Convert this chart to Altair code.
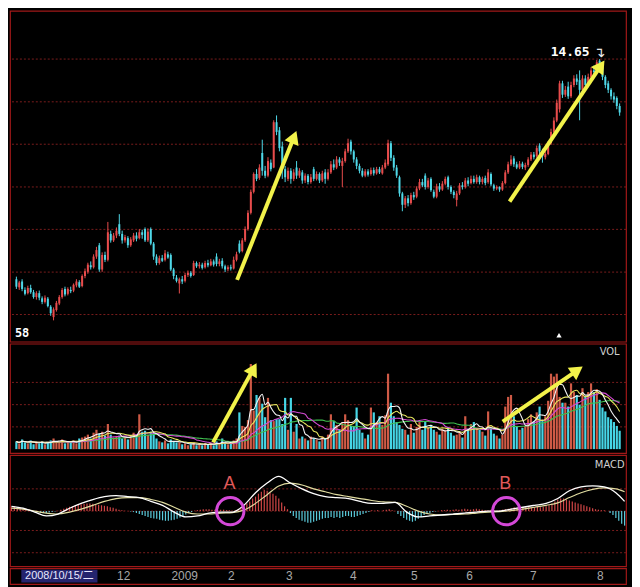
import altair as alt
import pandas as pd

# ---------------- data ----------------
OPEN = [7.85,7.60,7.78,7.52,7.42,7.58,7.45,7.30,7.42,7.26,
        7.15,7.25,7.00,6.68,6.90,7.10,7.30,7.55,7.40,7.52,
        7.50,7.66,7.76,7.64,7.95,8.08,8.28,8.22,8.55,8.90,
        8.15,8.60,8.45,9.25,9.05,9.20,9.55,9.25,9.05,9.12,
        8.90,9.05,9.20,9.12,9.30,9.40,9.05,9.40,8.95,8.55,
        8.35,8.50,8.45,8.62,8.60,8.15,7.90,7.72,7.85,7.80,
        7.98,8.05,7.98,8.35,8.25,8.30,8.22,8.35,8.28,8.40,
        8.55,8.32,8.42,8.25,8.16,8.22,8.18,8.45,8.95,8.72,
        9.05,9.40,9.90,10.55,11.10,10.98,11.75,11.20,11.05,11.45,
        11.30,12.70,12.45,11.95,11.25,10.95,11.20,10.95,11.30,11.05,
        11.15,10.90,11.05,10.85,11.25,10.95,11.10,10.90,11.15,10.95,
        11.15,11.40,11.30,11.55,11.35,11.50,11.80,12.10,11.80,11.55,
        11.35,11.20,11.05,11.18,11.10,11.22,11.12,11.25,11.12,11.30,
        11.40,12.05,11.60,11.30,11.00,10.50,10.15,10.35,10.20,10.45,
        10.40,10.65,10.85,11.05,10.70,10.95,10.55,10.40,10.72,10.62,
        10.80,11.00,10.70,10.55,10.30,10.50,10.75,10.70,10.90,10.82,
        10.95,10.85,11.00,10.85,10.98,10.85,11.10,10.75,10.65,10.70,
        10.62,10.82,11.15,11.40,11.58,11.40,11.30,11.42,11.30,11.38,
        11.55,11.70,11.65,11.98,11.80,11.62,11.72,12.05,12.40,12.75,
        13.10,13.90,13.55,13.80,13.50,13.85,14.05,14.00,13.70,14.05,
        13.85,14.10,14.30,14.25,14.60,14.45,14.10,13.90,13.70,13.50,
        13.45,13.20]
CLOSE = [7.62,7.75,7.55,7.40,7.58,7.45,7.30,7.42,7.28,7.15,
         7.28,7.02,6.80,6.92,7.12,7.30,7.52,7.38,7.55,7.48,
         7.68,7.78,7.62,7.95,8.10,8.30,8.22,8.55,8.75,8.15,
         8.60,8.45,9.30,9.05,9.20,9.35,9.25,9.05,9.15,8.90,
         9.08,9.20,9.10,9.30,9.22,9.05,9.32,8.95,8.55,8.35,
         8.50,8.42,8.65,8.52,8.15,7.95,7.80,7.85,7.78,7.98,
         8.05,7.95,8.35,8.25,8.30,8.20,8.35,8.28,8.40,8.30,
         8.32,8.40,8.25,8.15,8.22,8.18,8.45,8.62,8.70,9.05,
         9.40,9.90,10.55,11.10,10.95,11.30,11.20,11.05,11.50,11.25,
         12.70,12.40,11.90,11.25,11.00,11.20,10.95,11.15,11.05,11.20,
         10.90,11.05,10.85,11.00,10.95,11.10,10.90,11.12,10.95,11.15,
         11.40,11.30,11.55,11.45,11.50,11.80,12.05,11.80,11.55,11.35,
         11.20,11.05,11.18,11.08,11.22,11.12,11.25,11.15,11.30,11.45,
         12.05,11.60,11.30,11.05,10.50,10.15,10.35,10.20,10.45,10.38,
         10.65,10.85,10.75,10.70,10.90,10.60,10.40,10.72,10.62,10.80,
         10.95,10.70,10.55,10.45,10.50,10.75,10.70,10.90,10.80,10.95,
         10.85,11.00,10.85,10.95,10.82,11.15,10.78,10.65,10.70,10.62,
         10.82,11.15,11.40,11.55,11.40,11.30,11.42,11.32,11.38,11.55,
         11.70,11.62,11.90,11.80,11.65,11.72,12.05,12.40,12.75,13.30,
         13.90,13.55,13.70,13.50,13.85,14.05,13.95,13.70,14.05,13.85,
         14.10,14.30,14.25,14.55,14.45,14.10,13.85,13.70,13.50,13.40,
         13.20,13.00]
HIGH = [7.93,7.80,7.85,7.60,7.65,7.68,7.52,7.48,7.50,7.32,
        7.35,7.30,7.05,6.98,7.18,7.36,7.58,7.62,7.60,7.62,
        7.72,7.85,7.82,8.00,8.18,8.36,8.40,8.62,8.85,8.97,
        8.68,8.70,9.62,9.35,9.28,9.45,9.86,9.35,9.22,9.18,
        9.15,9.28,9.30,9.40,9.38,9.45,9.42,9.45,9.00,8.62,
        8.58,8.60,8.75,8.70,8.65,8.20,7.98,7.90,7.95,8.05,
        8.12,8.10,8.42,8.40,8.38,8.36,8.42,8.45,8.48,8.46,
        8.65,8.48,8.50,8.30,8.28,8.30,8.55,8.70,9.05,9.12,
        9.48,9.98,10.62,11.15,11.25,11.40,12.16,11.35,11.62,11.55,
        12.76,12.91,12.55,12.10,11.35,11.30,11.28,11.25,11.50,11.28,
        11.22,11.12,11.10,11.10,11.32,11.18,11.15,11.20,11.25,11.25,
        11.50,11.55,11.65,11.62,11.60,11.88,12.19,12.16,11.85,11.62,
        11.42,11.28,11.25,11.25,11.30,11.30,11.32,11.32,11.38,11.55,
        12.16,12.12,11.68,11.38,11.05,10.55,10.42,10.45,10.52,10.55,
        10.72,10.95,10.95,11.12,10.98,11.00,10.62,10.80,10.82,10.88,
        11.02,11.05,10.75,10.60,10.58,10.82,10.85,10.98,11.00,11.05,
        11.05,11.08,11.05,11.02,11.05,11.25,11.15,10.80,10.75,10.72,
        10.88,11.22,11.48,11.68,11.65,11.48,11.50,11.48,11.45,11.62,
        11.78,11.78,11.98,12.05,11.88,11.80,12.12,12.50,12.85,13.40,
        13.98,13.98,13.82,13.95,13.95,14.15,14.18,14.30,14.15,14.15,
        14.20,14.40,14.45,14.62,14.65,14.50,14.15,13.98,13.75,13.62,
        13.50,13.28]
LOW = [7.55,7.52,7.48,7.35,7.38,7.40,7.25,7.22,7.20,7.08,
       7.10,6.98,6.72,6.58,6.85,7.05,7.25,7.32,7.35,7.42,
       7.45,7.60,7.58,7.60,7.88,8.02,8.15,8.18,8.48,8.08,
       8.08,8.38,8.40,8.98,9.00,9.12,9.18,8.95,8.98,8.82,
       8.85,9.00,9.02,9.08,9.10,9.00,9.00,8.90,8.45,8.28,
       8.30,8.38,8.40,8.48,8.10,7.85,7.75,7.41,7.70,7.75,
       7.92,7.90,7.95,8.20,8.18,8.15,8.18,8.22,8.25,8.24,
       8.25,8.25,8.18,8.07,8.10,8.12,8.15,8.40,8.65,8.68,
       9.00,9.35,9.85,10.50,10.88,10.92,11.05,10.97,11.00,11.18,
       11.28,12.30,11.80,10.95,10.85,10.88,10.80,10.88,10.95,10.98,
       10.80,10.82,10.78,10.80,10.88,10.90,10.82,10.85,10.80,10.90,
       11.10,11.22,11.25,11.35,10.70,11.45,11.75,11.70,11.45,11.25,
       11.12,11.00,11.00,11.02,11.05,11.05,11.08,11.10,11.08,11.25,
       11.35,11.50,11.20,10.98,10.40,9.95,10.05,10.10,10.15,10.30,
       10.35,10.60,10.70,10.62,10.65,10.55,10.35,10.35,10.55,10.58,
       10.75,10.62,10.48,10.35,10.10,10.45,10.62,10.65,10.72,10.78,
       10.80,10.80,10.78,10.78,10.75,10.80,10.72,10.58,10.60,10.55,
       10.58,10.78,11.10,11.35,11.32,11.25,11.25,11.25,11.22,11.32,
       11.50,11.55,11.60,11.72,11.45,11.55,11.68,12.00,12.35,12.70,
       13.00,13.45,13.48,13.42,13.45,13.78,13.85,12.76,13.60,13.75,
       13.78,14.05,14.15,14.20,14.38,14.00,13.75,13.60,13.40,13.30,
       13.10,12.90]
VOL = [16,12,20,14,12,18,10,14,12,16,
       10,14,18,22,16,14,20,12,16,14,
       18,12,22,24,26,30,22,34,40,32,
       36,28,52,30,24,26,28,22,26,20,
       28,34,30,72,36,38,30,36,34,22,
       16,14,18,12,20,16,14,14,10,12,
       8,10,14,8,10,8,12,10,12,8,
       16,12,22,14,10,12,18,22,76,48,
       46,60,176,80,112,106,94,66,106,60,
       58,62,62,52,106,40,106,36,52,22,
       26,22,18,26,22,20,16,26,22,30,
       72,58,50,40,56,72,60,48,48,86,
       40,34,22,30,86,76,56,68,50,70,
       156,96,68,56,50,42,40,30,52,34,
       46,56,40,56,44,50,40,36,30,42,
       40,46,34,28,30,36,24,68,42,52,
       56,44,40,36,28,78,42,32,28,22,
       30,88,108,112,68,48,40,44,48,62,
       72,58,76,88,58,68,100,156,150,156,
       108,96,96,88,136,118,112,92,126,110,
       118,136,118,124,102,86,78,66,62,56,
       48,38]
HIST = [0.08,0.10,0.08,0.07,0.06,0.05,0.04,
        0.02,0.00,-0.02,-0.03,-0.04,-0.04,-0.03,-0.02,-0.01,0.01,
        0.03,0.05,0.07,0.09,0.10,0.12,0.13,0.14,0.15,0.16,0.16,0.15,0.14,0.13,0.12,0.11,0.10,0.08,0.07,0.05,0.03,
        0.02,0.01,0.00,-0.01,-0.02,
        -0.04,-0.06,-0.08,-0.10,-0.12,-0.14,-0.15,-0.16,-0.18,-0.19,-0.20,-0.20,-0.19,-0.18,-0.16,-0.13,-0.10,-0.07,
        -0.04,-0.02,0.01,0.02,0.03,0.04,0.04,0.04,0.03,0.03,0.02,0.03,0.03,0.02,0.02,0.01,0.02,0.04,
        0.08,0.12,0.16,0.20,0.26,0.30,0.36,0.40,0.44,0.42,0.38,0.36,0.32,0.26,0.18,0.10,0.04,
        -0.04,-0.10,-0.14,-0.18,-0.20,-0.22,-0.24,-0.24,-0.22,-0.20,-0.18,-0.16,-0.14,-0.14,-0.12,
        -0.14,-0.12,-0.14,-0.12,-0.10,-0.10,-0.12,-0.12,-0.10,-0.08,-0.06,-0.04,-0.02,
        0.02,0.01,0.02,0.00,0.02,0.03,0.04,0.02,0.00,
        -0.06,-0.10,-0.14,-0.18,-0.20,-0.22,-0.20,-0.16,-0.12,-0.08,-0.06,-0.04,-0.02,-0.01,0.00,
        0.02,0.02,0.03,0.02,0.03,0.04,0.03,0.04,0.05,0.04,0.03,0.04,0.05,0.04,0.03,0.02,0.02,0.03,0.02,0.01,0.02,0.03,0.04,
        0.05,0.06,0.08,0.07,0.06,0.07,0.08,0.08,0.07,0.08,0.09,0.08,0.09,0.10,0.12,
        0.16,0.20,0.24,0.26,0.26,0.24,0.22,0.20,0.18,0.16,0.14,0.12,0.10,0.08,0.06,
        0.04,0.03,0.02,0.02,0.00,-0.04,-0.08,
        -0.14,-0.20,-0.26,-0.30]

MACD_IDX = [0,4,8,12,16,20,24,28,32,36,40,44,48,52,56,60,64,68,72,76,
            80,84,88,92,96,100,104,108,112,116,120,124,128,132,136,140,144,148,152,156,
            160,164,168,172,176,180,184,188,192,196,200,204,208,211]
DIF = [0.10,0.06,-0.02,-0.10,-0.06,0.06,0.16,0.24,0.30,0.32,
       0.30,0.28,0.20,0.12,-0.02,-0.12,-0.10,-0.04,-0.02,-0.02,
       0.12,0.38,0.58,0.72,0.58,0.46,0.36,0.30,0.28,0.26,
       0.20,0.16,0.16,0.18,-0.02,-0.12,-0.10,-0.08,-0.06,-0.04,
       -0.02,0.00,0.00,0.04,0.08,0.12,0.16,0.26,0.42,0.50,
       0.52,0.50,0.38,0.20]
DEA = [0.06,0.04,0.00,-0.04,-0.06,-0.02,0.04,0.12,0.20,0.26,
       0.28,0.28,0.24,0.18,0.08,-0.02,-0.06,-0.06,-0.04,-0.03,
       0.02,0.16,0.34,0.52,0.58,0.54,0.46,0.40,0.34,0.30,
       0.26,0.22,0.19,0.18,0.10,0.00,-0.06,-0.08,-0.07,-0.06,
       -0.04,-0.02,-0.01,0.01,0.04,0.08,0.12,0.17,0.28,0.38,
       0.45,0.48,0.46,0.40]

PRICE_GRID = [14.65, 13.33, 12.02, 10.70, 9.39, 8.07, 6.76]
VOL_GRID = [46, 92, 138]
MACD_GRID = [0.46, 0.0, -0.40, -0.86]

MONTH_IDX = [40, 61, 77, 97, 119, 140, 159, 181, 204]
MONTH_TXT = ["12", "2009", "2", "3", "4", "5", "6", "7", "8"]

# annotation arrows (tail -> head, data coordinates)
P_ARROWS = {"x": [77.2, 172.5], "y": [7.83, 10.25], "x2": [97.1, 204.4], "y2": [12.24, 14.44], "ang": [22, 34.5]}
V_ARROWS = {"x": [68.8, 170.1], "y": [14, 57], "x2": [82.9, 196.2], "y2": [166, 163], "ang": [29, 55.5]}

# ---------------- build ----------------
n = min(len(OPEN), len(CLOSE), len(HIGH), len(LOW), len(VOL), len(HIST))
df = pd.DataFrame({"i": list(range(n)), "o": OPEN[:n], "c": CLOSE[:n], "h": HIGH[:n],
                   "l": LOW[:n], "vol": VOL[:n], "hist": HIST[:n]})
up = df["c"] >= df["o"]
df["ccol"] = ["#e84c4c" if u else "#4fd8e8" for u in up]
df["vcol"] = ["#cf5a46" if u else "#46d6e6" for u in up]
df["hcol"] = ["#d04646" if v >= 0 else "#5ccbdc" for v in df["hist"]]

m = min(len(MACD_IDX), len(DIF), len(DEA))
dm = pd.DataFrame({"i": MACD_IDX[:m], "dif": DIF[:m], "dea": DEA[:m]})

W = 620
RED = "#a01818"
GRID = "#7a1c1c"
xs = alt.Scale(domain=[-0.5, 211.5], nice=False, zero=False)


def X(f="i"):
    return alt.X(f"{f}:Q", scale=xs, axis=None)


ps = alt.Scale(domain=[5.92, 16.14], nice=False, zero=False)
vs = alt.Scale(domain=[-8, 218], nice=False, zero=False)
ms = alt.Scale(domain=[-1.14, 1.16], nice=False, zero=False)


def Yp(f, s):
    return alt.Y(f"{f}:Q", scale=s, axis=None)


base = alt.Chart(df)

# ----- price panel -----
p_grid = alt.Chart(pd.DataFrame({"g": PRICE_GRID})).mark_rule(
    color=GRID, strokeDash=[2, 2], strokeWidth=1).encode(y=Yp("g", ps))
wick = base.mark_rule(strokeWidth=1).encode(
    x=X(), y=Yp("l", ps), y2=alt.Y2("h:Q"), color=alt.Color("ccol:N", scale=None))
body = base.mark_bar(width=2.0).encode(
    x=X(), y=Yp("o", ps), y2=alt.Y2("c:Q"), color=alt.Color("ccol:N", scale=None))
pa = alt.Chart(pd.DataFrame(P_ARROWS))
p_shaft = pa.mark_rule(color="#f2f24a", strokeWidth=4).encode(
    x=X("x"), y=Yp("y", ps), x2=alt.X2("x2:Q"), y2=alt.Y2("y2:Q"))
p_head = pa.mark_point(shape="triangle-up", filled=True, size=230, color="#f2f24a", opacity=1).encode(
    x=X("x2"), y=Yp("y2", ps), angle=alt.Angle("ang:Q", scale=None))
peak_txt = alt.Chart(pd.DataFrame({"i": [200.5], "p": [14.86], "t": ["14.65"]})).mark_text(
    align="right", baseline="middle", font="DejaVu Sans Mono", fontWeight="bold",
    fontSize=13, color="#ffffff").encode(x=X(), y=Yp("p", ps), text="t:N")
peak_arrow = alt.Chart(pd.DataFrame({"i": [204.0], "p": [14.84], "t": ["↴"]})).mark_text(
    align="center", baseline="middle", font="DejaVu Sans", fontSize=14,
    color="#e8e8e8").encode(x=X(), y=Yp("p", ps), text="t:N")
low_txt = alt.Chart(pd.DataFrame({"i": [-0.5], "p": [6.19], "t": ["58"]})).mark_text(
    align="left", baseline="middle", font="DejaVu Sans Mono", fontWeight="bold",
    fontSize=12, color="#ffffff").encode(x=X(), y=Yp("p", ps), text="t:N")
marker = alt.Chart(pd.DataFrame({"i": [189.8], "p": [6.12]})).mark_point(
    shape="triangle-up", filled=True, size=28, color="#ffffff", opacity=1).encode(
    x=X(), y=Yp("p", ps))
price = alt.layer(p_grid, wick, body, p_shaft, p_head, peak_txt, peak_arrow, low_txt, marker
                  ).properties(width=W, height=333)

# ----- volume panel -----
v_grid = alt.Chart(pd.DataFrame({"g": VOL_GRID})).mark_rule(
    color=GRID, strokeDash=[2, 2], strokeWidth=1).encode(y=Yp("g", vs))
vbar = base.mark_bar(width=2.2).encode(
    x=X(), y=Yp("vol", vs), y2=alt.datum(0), color=alt.Color("vcol:N", scale=None))


def ma_line(k, col):
    return base.transform_window(ma="mean(vol)", frame=[-(k - 1), 0], sort=[{"field": "i"}]
                                 ).mark_line(color=col, strokeWidth=1.1, interpolate="monotone"
                                             ).encode(x=X(), y=Yp("ma", vs))


ma_lines = [ma_line(30, "#3fbf4f"), ma_line(20, "#d24ad2"), ma_line(10, "#e8e860"), ma_line(5, "#f4f4f4")]
va = alt.Chart(pd.DataFrame(V_ARROWS))
v_shaft = va.mark_rule(color="#f2f24a", strokeWidth=4).encode(
    x=X("x"), y=Yp("y", vs), x2=alt.X2("x2:Q"), y2=alt.Y2("y2:Q"))
v_head = va.mark_point(shape="triangle-up", filled=True, size=230, color="#f2f24a", opacity=1).encode(
    x=X("x2"), y=Yp("y2", vs), angle=alt.Angle("ang:Q", scale=None))
vol_txt = alt.Chart(pd.DataFrame({"i": [211.0], "v": [200], "t": ["VOL"]})).mark_text(
    align="right", baseline="middle", font="DejaVu Sans", fontSize=10,
    color="#d0d0d0").encode(x=X(), y=Yp("v", vs), text="t:N")
volume = alt.layer(v_grid, vbar, *ma_lines, v_shaft, v_head, vol_txt).properties(width=W, height=110)

# ----- MACD panel -----
m_grid = alt.Chart(pd.DataFrame({"g": MACD_GRID})).mark_rule(
    color=GRID, strokeDash=[2, 2], strokeWidth=1).encode(y=Yp("g", ms))
hbar = base.mark_rule(strokeWidth=1.2).encode(
    x=X(), y=Yp("hist", ms), y2=alt.datum(0), color=alt.Color("hcol:N", scale=None))
dea_line = alt.Chart(dm).mark_line(color="#e0dca0", strokeWidth=1.2, interpolate="monotone").encode(
    x=X(), y=Yp("dea", ms))
dif_line = alt.Chart(dm).mark_line(color="#ffffff", strokeWidth=1.3, interpolate="monotone").encode(
    x=X(), y=Yp("dif", ms))
circ = alt.Chart(pd.DataFrame({"i": [75.3, 170.3], "v": [0.0, 0.0]})).mark_point(
    shape="circle", filled=False, size=760, strokeWidth=3, color="#d448d8", opacity=1).encode(
    x=X(), y=Yp("v", ms))
letters = alt.Chart(pd.DataFrame({"i": [75.0, 169.9], "v": [0.56, 0.56], "t": ["A", "B"]})).mark_text(
    align="center", baseline="middle", font="Liberation Sans", fontSize=18,
    color="#e05a5a").encode(x=X(), y=Yp("v", ms), text="t:N")
macd_txt = alt.Chart(pd.DataFrame({"i": [211.0], "v": [0.96], "t": ["MACD"]})).mark_text(
    align="right", baseline="middle", font="DejaVu Sans", fontSize=10,
    color="#d0d0d0").encode(x=X(), y=Yp("v", ms), text="t:N")
macd = alt.layer(m_grid, hbar, dea_line, dif_line, circ, letters, macd_txt).properties(width=W, height=112)

# ----- date strip -----
ss = alt.Scale(domain=[0, 1], nice=False, zero=False)
date_box = alt.Chart(pd.DataFrame({"a": [3.4], "b": [29.6], "y0": [0.1], "y1": [0.9]})).mark_rect(
    color="#24246e").encode(x=X("a"), x2=alt.X2("b:Q"), y=Yp("y0", ss), y2=alt.Y2("y1:Q"))
date_txt = alt.Chart(pd.DataFrame({"i": [16.5], "y": [0.5], "t": ["2008/10/15/二"]})).mark_text(
    align="center", baseline="middle", font="Liberation Sans, Noto Sans CJK SC", fontSize=11,
    color="#e8e8ff").encode(x=X(), y=Yp("y", ss), text="t:N")
month_txt = alt.Chart(pd.DataFrame({"i": MONTH_IDX, "y": [0.5] * len(MONTH_IDX), "t": MONTH_TXT})).mark_text(
    align="center", baseline="middle", font="Liberation Sans", fontSize=12, dx=-4,
    color="#a8a8a8").encode(x=X(), y=Yp("y", ss), text="t:N")
strip = alt.layer(date_box, date_txt, month_txt).properties(width=W, height=16)

chart = alt.vconcat(price, volume, macd, strip, spacing=0).properties(
    background="#000000",
    padding={"left": 0, "top": 0, "right": 4, "bottom": 0},
).configure_view(stroke=RED, strokeWidth=1.2)

chart.save("out.html", embed_options={"renderer": "svg", "actions": False})
